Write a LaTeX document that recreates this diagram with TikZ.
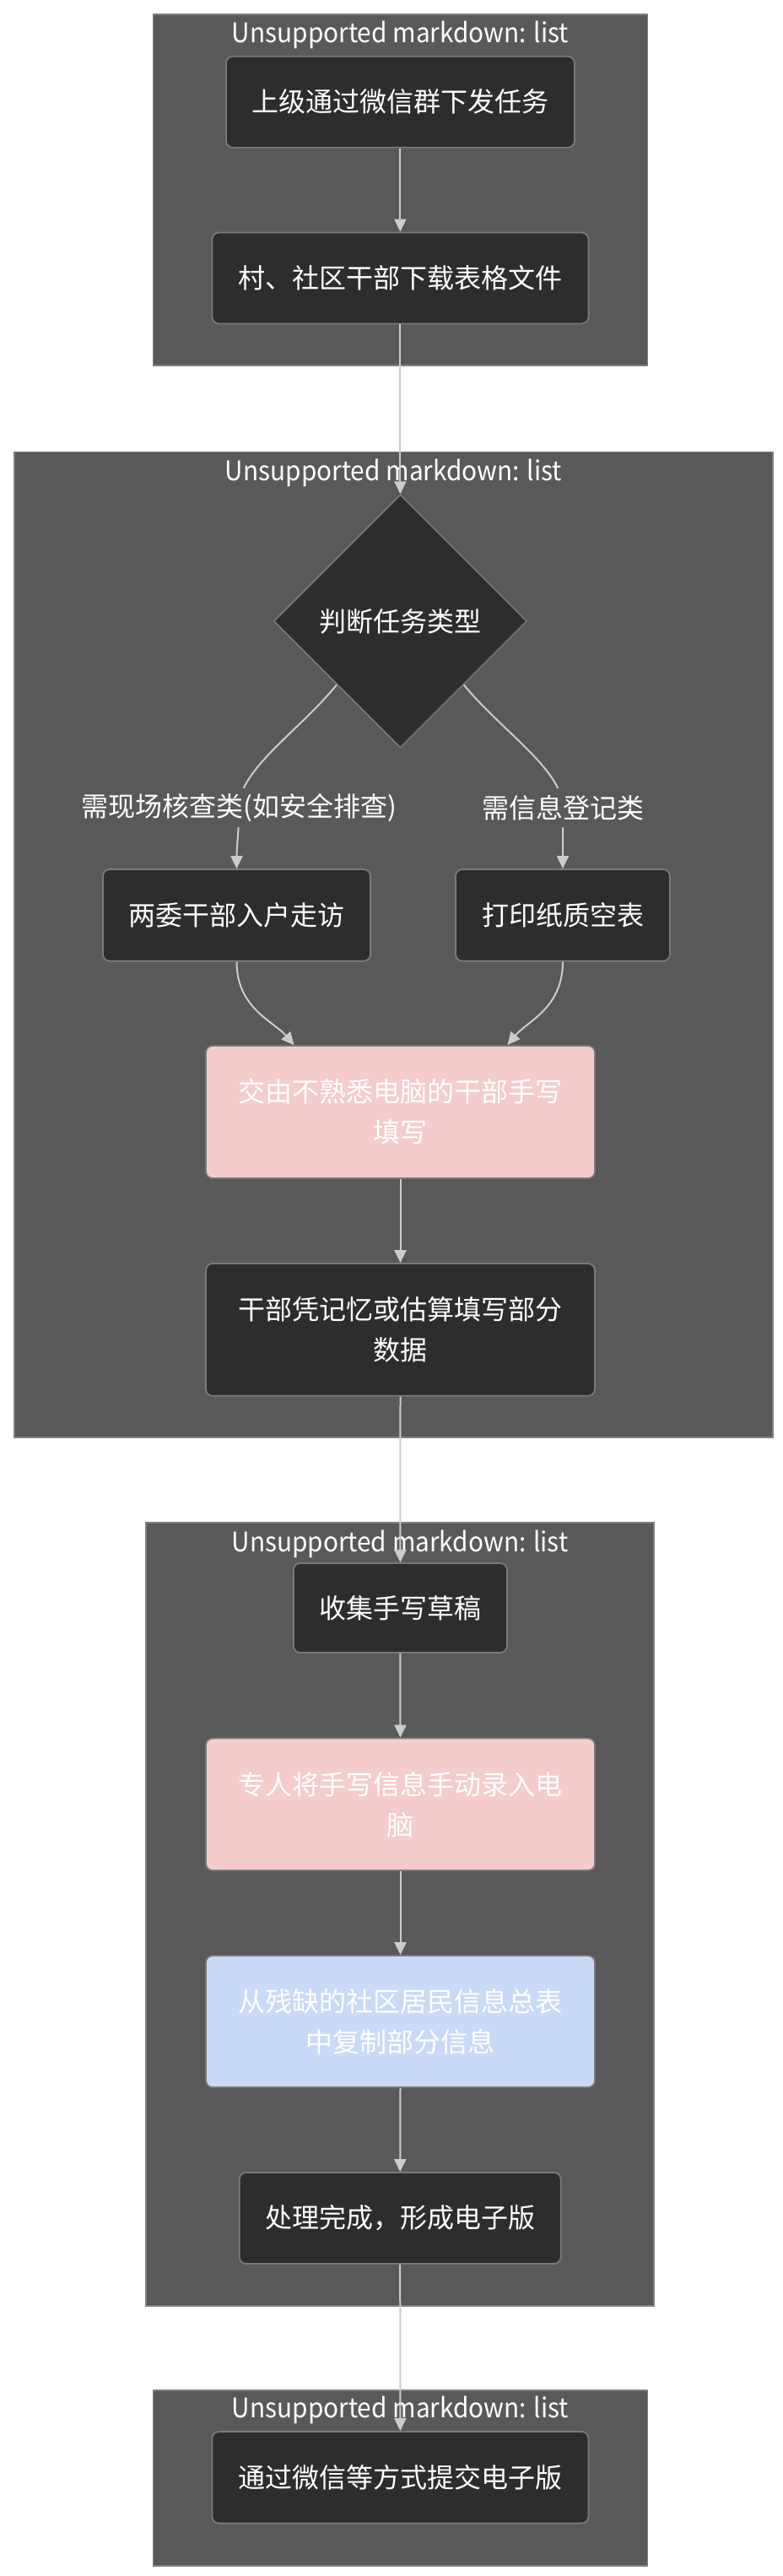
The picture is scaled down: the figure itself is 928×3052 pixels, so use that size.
\documentclass[tikz,border=0pt]{standalone}
\usepackage{fontspec}
\setmainfont{Noto Sans CJK SC}
\usetikzlibrary{shapes.geometric,arrows.meta,calc}
\definecolor{clfill}{HTML}{595959}
\definecolor{clline}{HTML}{808080}
\definecolor{ndfill}{HTML}{2D2D2D}
\definecolor{ndline}{HTML}{7A7A7A}
\definecolor{edgec}{HTML}{CCCCCC}
\definecolor{pinkf}{HTML}{F4CCCC}
\definecolor{bluef}{HTML}{C9DAF8}
\definecolor{txtc}{HTML}{FFFFFF}
\newcommand{\cltitletext}{\scalebox{0.93}[1]{Unsupported markdown: list}}
\begin{document}
\begin{tikzpicture}[x=1pt,y=-1pt,
  cluster/.style={draw=clline,fill=clfill,line width=1.5pt,inner sep=0pt,rectangle},
  ctitle/.style={text=txtc,font=\fontsize{32}{40}\selectfont,inner sep=0pt},
  proc/.style={draw=ndline,fill=ndfill,line width=1.8pt,rounded corners=8pt,rectangle,
    text=txtc,font=\fontsize{32}{48}\selectfont,align=center,inner sep=0pt},
  pinkbox/.style={proc,fill=pinkf},
  bluebox/.style={proc,fill=bluef},
  decision/.style={diamond,draw=ndline,fill=ndfill,line width=1.5pt,aspect=1,
    minimum width=300pt,minimum height=300pt,inner sep=0pt,
    text=txtc,font=\fontsize{32}{40}\selectfont},
  elabel/.style={fill=clfill,text=txtc,font=\fontsize{32}{40}\selectfont,
    inner xsep=2pt,inner ysep=0pt,minimum height=46pt},
  flow/.style={draw=edgec,line width=2pt,-{Triangle[length=15pt,width=14pt]}}
]
\useasboundingbox (0,0) rectangle (928,3052);
\fill[white] (0,0) rectangle (928,3052);

% clusters
\node[cluster,minimum width=586pt,minimum height=416pt] (cl1) at (474.4,224.9) {};
\node[cluster,minimum width=899pt,minimum height=1167.6pt] (cl2) at (466.4,1119.2) {};
\node[cluster,minimum width=602pt,minimum height=927.7pt] (cl3) at (474,2267.9) {};
\node[cluster,minimum width=586pt,minimum height=208pt] (cl4) at (474.4,2936) {};

% cluster titles
\node[ctitle] (t1) at (474.4,41.6) {\cltitletext};
\node[ctitle] (t2) at (466.4,560.4) {\cltitletext};
\node[ctitle] (t3) at (474,1829) {\cltitletext};
\node[ctitle] (t4) at (474.4,2855.7) {\cltitletext};

% nodes
\node[proc,minimum width=413pt,minimum height=108pt] (A) at (474.4,120.8) {上级通过微信群下发任务};
\node[proc,minimum width=446pt,minimum height=108pt] (B) at (474.4,329.5) {村、社区干部下载表格文件};
\node[decision] (dec) at (474.4,736) {判断任务类型};
\node[proc,minimum width=317pt,minimum height=108.6pt] (C) at (280.5,1084.3) {两委干部入户走访};
\node[proc,minimum width=254pt,minimum height=108.6pt] (D) at (667,1084.3) {打印纸质空表};
\node[pinkbox,minimum width=461pt,minimum height=157pt] (E) at (474.5,1317.5) {交由不熟悉电脑的干部手写\\填写};
\node[proc,minimum width=461pt,minimum height=156.7pt] (F) at (474.5,1575.4) {干部凭记忆或估算填写部分\\数据};
\node[proc,minimum width=253pt,minimum height=106pt] (G) at (474.4,1905) {收集手写草稿};
\node[pinkbox,minimum width=461pt,minimum height=156.5pt] (H) at (474.5,2137.8) {专人将手写信息手动录入电\\脑};
\node[bluebox,minimum width=461pt,minimum height=156pt] (I) at (474.5,2395) {从残缺的社区居民信息总表\\中复制部分信息};
\node[proc,minimum width=381pt,minimum height=108pt] (J) at (474.2,2628) {处理完成，形成电子版};
\node[proc,minimum width=446pt,minimum height=108.6pt] (K) at (474.4,2935.3) {通过微信等方式提交电子版};

% label positions
\coordinate (l1) at (283,957);
\coordinate (l2) at (667,957);

% edges
\draw[flow] (A.south) -- (B.north);
\draw[flow] (B.south) -- (dec.north);
\draw[flow] (dec.south west) .. controls +(-45,55) and ($(l1)+(0,-45)$) .. (l1)
  .. controls +(0,35) and ($(C.north)+(0,-30)$) .. (C.north);
\draw[flow] (dec.south east) .. controls +(45,55) and ($(l2)+(0,-45)$) .. (l2)
  .. controls +(0,35) and ($(D.north)+(0,-30)$) .. (D.north);
\draw[flow] (C.south) .. controls +(0,55) and ($(E.north)+(-150,-28)$) .. ($(E.north)+(-126,0)$);
\draw[flow] (D.south) .. controls +(0,55) and ($(E.north)+(150,-28)$) .. ($(E.north)+(127,0)$);
\draw[flow] (E.south) -- (F.north);
\draw[flow] (F.south) -- (G.north);
\draw[flow] (G.south) -- (H.north);
\draw[flow] (H.south) -- (I.north);
\draw[flow] (I.south) -- (J.north);
\draw[flow] (J.south) -- (K.north);

% edge labels
\node[elabel] (lab1) at (l1) {需现场核查类(如安全排查)};
\node[elabel] (lab2) at (l2) {需信息登记类};
\end{tikzpicture}
\end{document}
